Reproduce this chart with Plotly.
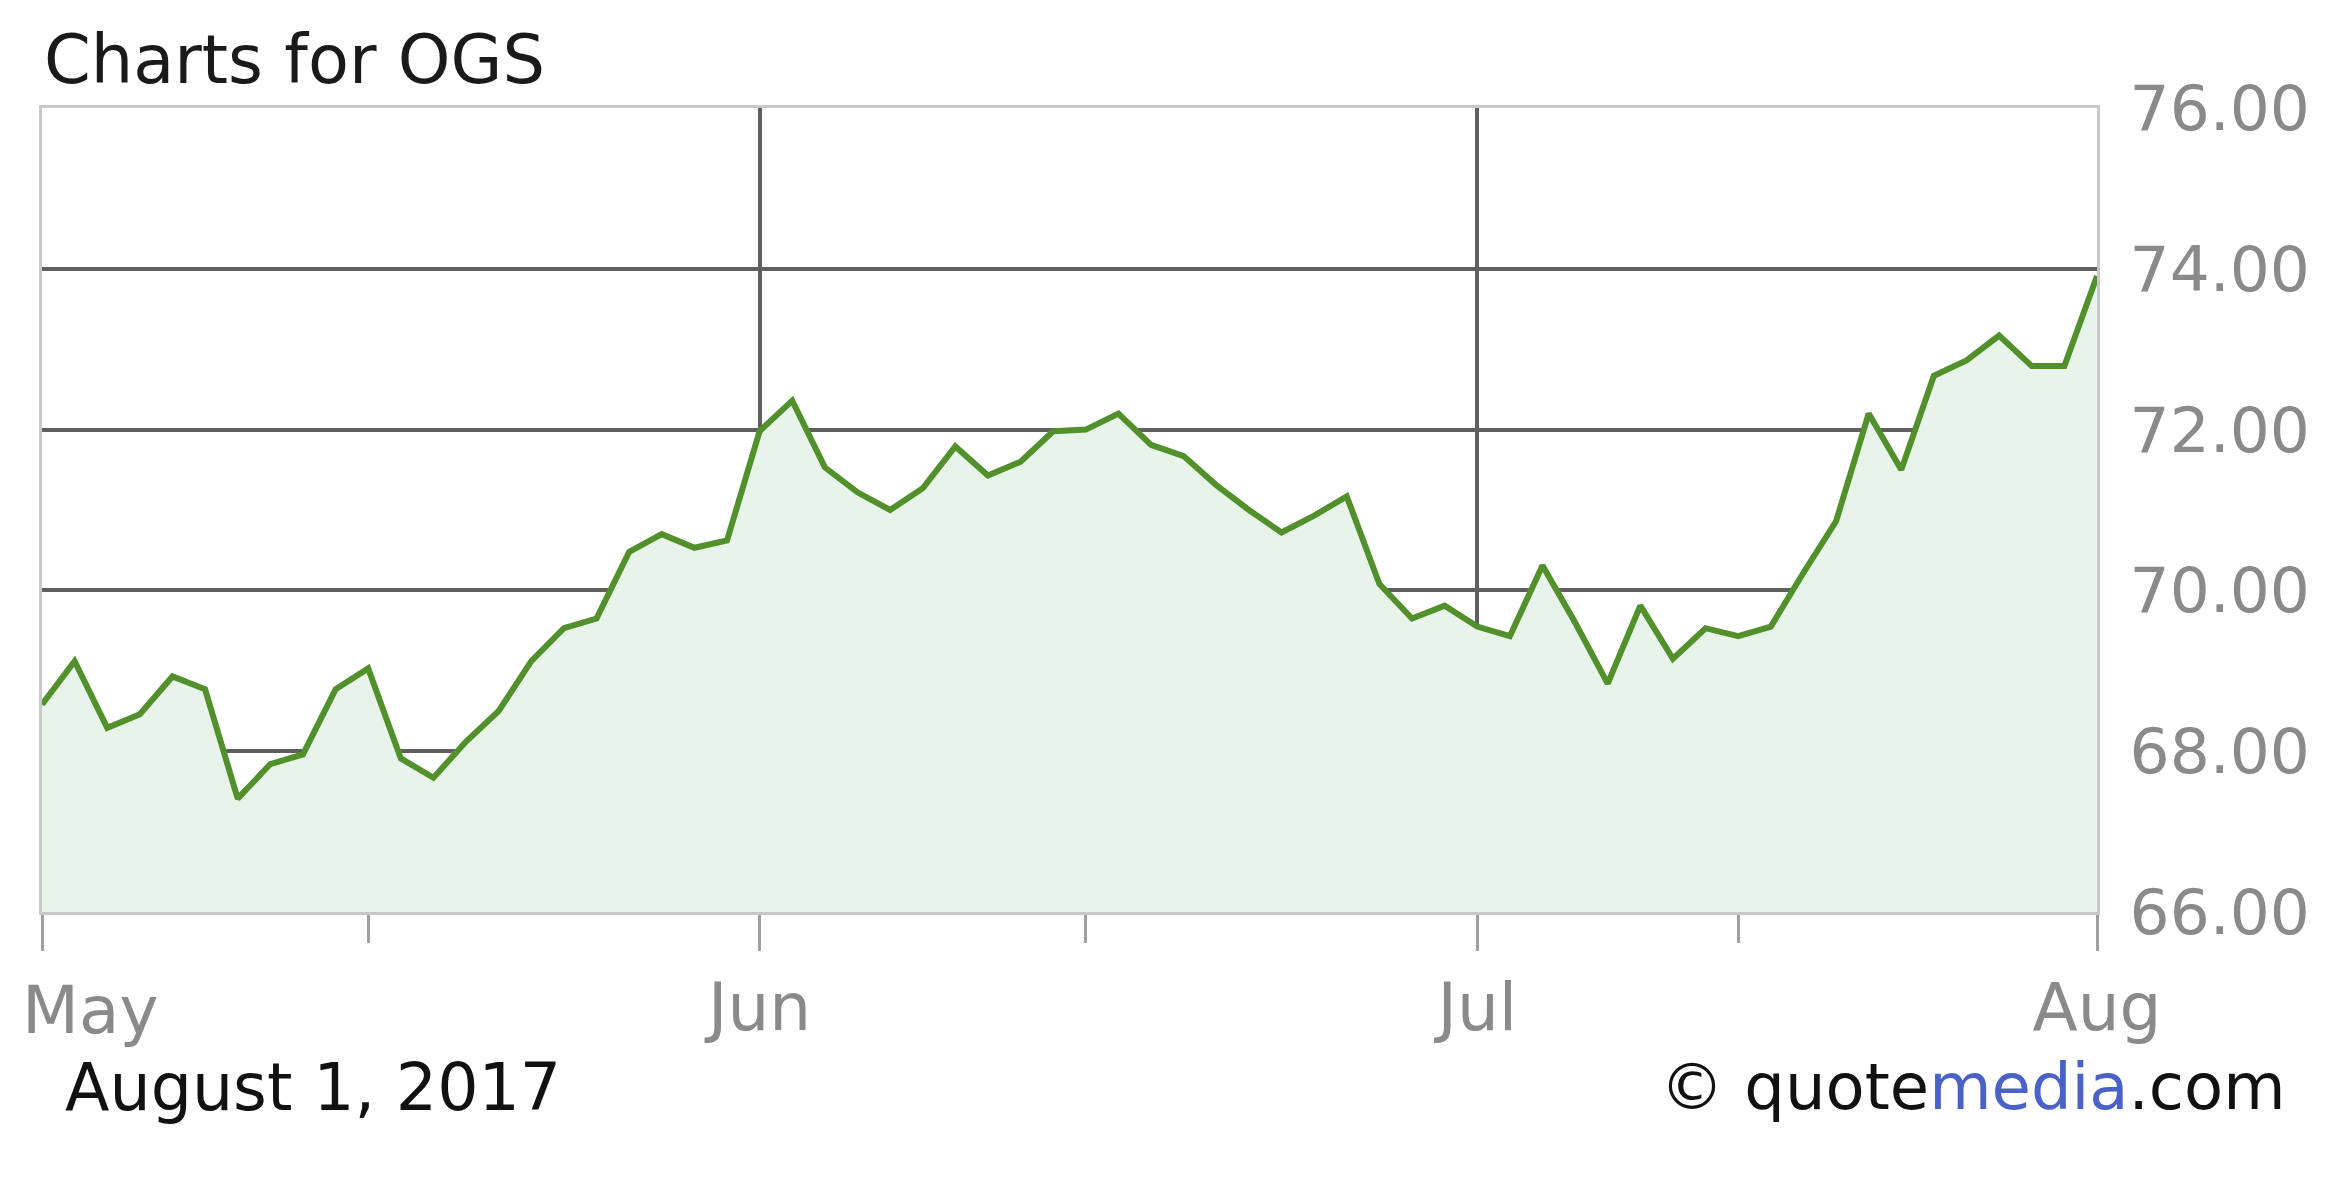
import plotly.graph_objects as go

# Trading days shown (May 1 – Jul 31, 2017)
dates = [
    "2017-05-01", "2017-05-02", "2017-05-03", "2017-05-04", "2017-05-05",
    "2017-05-08", "2017-05-09", "2017-05-10", "2017-05-11", "2017-05-12",
    "2017-05-15", "2017-05-16", "2017-05-17", "2017-05-18", "2017-05-19",
    "2017-05-22", "2017-05-23", "2017-05-24", "2017-05-25", "2017-05-26",
    "2017-05-30", "2017-05-31",
    "2017-06-01", "2017-06-02", "2017-06-05", "2017-06-06", "2017-06-07",
    "2017-06-08", "2017-06-09", "2017-06-12", "2017-06-13", "2017-06-14",
    "2017-06-15", "2017-06-16", "2017-06-19", "2017-06-20", "2017-06-21",
    "2017-06-22", "2017-06-23", "2017-06-26", "2017-06-27", "2017-06-28",
    "2017-06-29", "2017-06-30",
    "2017-07-03", "2017-07-05", "2017-07-06", "2017-07-07", "2017-07-10",
    "2017-07-11", "2017-07-12", "2017-07-13", "2017-07-14", "2017-07-17",
    "2017-07-18", "2017-07-19", "2017-07-20", "2017-07-21", "2017-07-24",
    "2017-07-25", "2017-07-26", "2017-07-27", "2017-07-28", "2017-07-31",
]

closes = [
    68.58, 69.12, 68.29, 68.46, 68.93, 68.77, 67.41, 67.84, 67.96, 68.77,
    69.03, 67.91, 67.67, 68.12, 68.50, 69.12, 69.53, 69.65, 70.48, 70.70,
    70.53, 70.62,
    71.98, 72.36, 71.53, 71.22, 71.00, 71.27, 71.79, 71.43, 71.60, 71.98,
    72.00, 72.20, 71.81, 71.67, 71.31, 71.00, 70.72, 70.93, 71.17, 70.08,
    69.65, 69.81,
    69.55, 69.43, 70.31, 69.60, 68.84, 69.81, 69.15, 69.53, 69.43, 69.55,
    70.22, 70.86, 72.20, 71.50, 72.67, 72.86, 73.17, 72.79, 72.79, 73.91,
]

# month ticks (the first label sits right of its tick, so it is placed at that tick separately)
month_tick_dates = ["2017-05-01", "2017-06-01", "2017-07-03", "2017-07-31"]
month_tick_labels = ["", "Jun", "Jul", "Aug"]
first_tick_label = "May"
mid_tick_dates = ["2017-05-15", "2017-06-15", "2017-07-14"]

y_ticks = [66, 68, 70, 72, 74, 76]
y_tick_labels = ["66.00", "68.00", "70.00", "72.00", "74.00", "76.00"]

FONT = "DejaVu Sans"
TICK_GRAY = "#8a8a8a"

fig = go.Figure()
fig.add_trace(go.Scatter(
    x=dates, y=closes, mode="lines",
    line=dict(color="#52902c", width=6),
    fill="tozeroy", fillcolor="#e8f3ea",
    hoverinfo="skip", showlegend=False,
))

fig.update_layout(
    width=2352, height=1178,
    margin=dict(l=34, r=263, t=100, b=274),
    paper_bgcolor="white", plot_bgcolor="white",
    font=dict(family=FONT),
    xaxis=dict(
        type="category", automargin=False,
        range=[0, len(dates) - 1],
        tickvals=month_tick_dates, ticktext=month_tick_labels,
        tickfont=dict(size=66, color=TICK_GRAY, family=FONT),
        ticks="outside", ticklen=36, tickwidth=3, tickcolor="#a0a0a0",
        showgrid=True, gridcolor="#5f5f5f", gridwidth=4,
        showline=True, linecolor="#c8c8c8", linewidth=3, mirror=True,
        minor=dict(tickvals=mid_tick_dates, ticks="outside", ticklen=28,
                   tickwidth=3, tickcolor="#a0a0a0", showgrid=False),
        zeroline=False, fixedrange=True,
    ),
    yaxis=dict(
        range=[66, 76], side="right", automargin=False,
        tickvals=y_ticks, ticktext=y_tick_labels,
        tickfont=dict(size=63, color=TICK_GRAY, family=FONT),
        ticks="", ticklabelstandoff=17,
        showgrid=True, gridcolor="#5f5f5f", gridwidth=4,
        showline=True, linecolor="#c8c8c8", linewidth=3, mirror=True,
        zeroline=False, fixedrange=True,
    ),
    annotations=[
        dict(text=first_tick_label, xref="x", yref="paper",
             x=month_tick_dates[0], y=-0.122, xanchor="left", yanchor="middle",
             xshift=-22, showarrow=False,
             font=dict(size=66, color=TICK_GRAY, family=FONT)),
        dict(text="Charts for OGS", xref="paper", yref="paper",
             x=0.0, y=1.06, xanchor="left", yanchor="middle",
             showarrow=False, font=dict(size=67, color="#1a1a1a", family=FONT)),
        dict(text="August 1, 2017", xref="paper", yref="paper",
             x=0.01, y=-0.218, xanchor="left", yanchor="middle",
             showarrow=False, font=dict(size=65, color="#111111", family=FONT)),
        dict(text="\u00a9 quote<span style='color:#4a62c8'>media</span>.com",
             xref="paper", yref="paper",
             x=1.093, y=-0.218, xanchor="right", yanchor="middle",
             showarrow=False, font=dict(size=64, color="#111111", family=FONT)),
    ],
)

fig.write_html("out.html")
